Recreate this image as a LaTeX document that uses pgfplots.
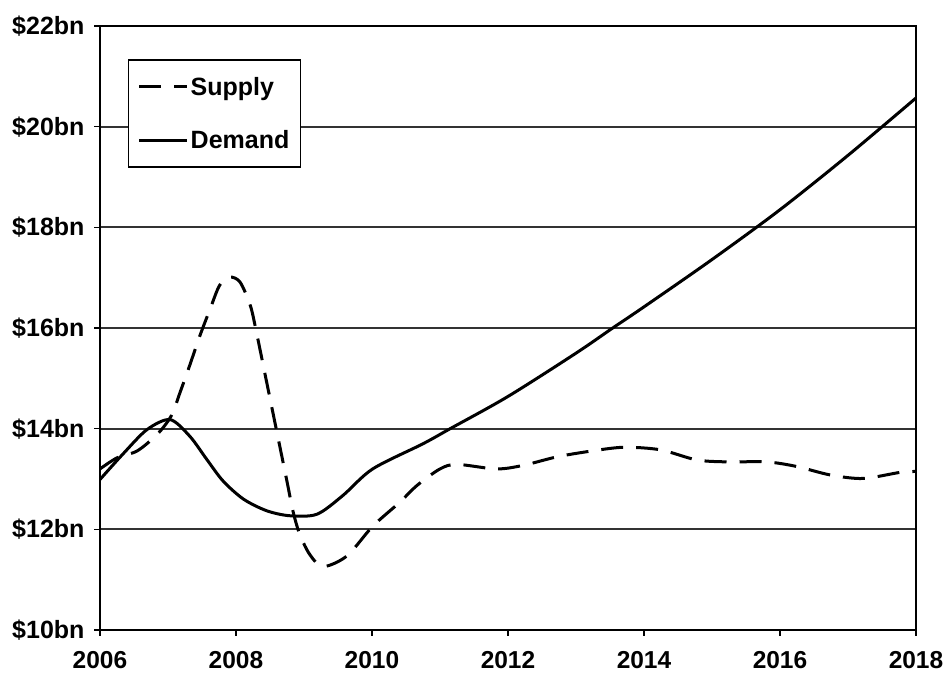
\documentclass[border=0pt]{standalone}
\usepackage{pgfplots}
\pgfplotsset{compat=1.18}
\usepackage{fontspec}
\setmainfont{Liberation Sans}

\begin{document}
\begin{tikzpicture}
\begin{axis}[
  scale only axis,
  width=816pt, height=604pt,
  xmin=2006, xmax=2018,
  ymin=10, ymax=22,
  xtick={2006,2008,...,2018},
  xticklabels={2006,2008,2010,2012,2014,2016,2018},
  ytick={10,12,...,22},
  yticklabels={\$10bn,\$12bn,\$14bn,\$16bn,\$18bn,\$20bn,\$22bn},
  tick pos=left,
  tick align=outside,
  major tick length=6pt,
  every tick/.style={black, line width=1.5pt},
  axis line style={black, line width=2pt},
  ymajorgrids,
  grid style={black!80, line width=1.8pt},
  yticklabel style={font=\fontsize{25}{28}\selectfont\bfseries, xshift=-6pt},
  xticklabel style={font=\fontsize{24.5}{28}\selectfont\bfseries, yshift=-12pt},
  /pgf/number format/assume math mode=true,
  legend style={
    at={(0.0343,0.945)}, anchor=north west,
    draw=black, line width=1.5pt,
    font=\fontsize{25}{28}\selectfont\bfseries,
    inner xsep=9pt, inner ysep=15pt,
    row sep=30pt,
  },
  legend cell align=left,
  legend image code/.code={\draw[#1] (0pt,0pt) -- (48pt,0pt);},
]

% Supply
\addplot[black, line width=3pt, smooth, tension=0.5,
  dash pattern=on 22pt off 13pt] coordinates {
  (2006.00,13.20) (2006.25,13.42) (2006.55,13.56) (2006.85,13.90)
  (2007.05,14.26) (2007.18,14.73) (2007.32,15.26) (2007.47,15.85)
  (2007.62,16.38) (2007.76,16.85) (2007.91,17.01) (2008.06,16.91)
  (2008.21,16.45) (2008.30,15.92) (2008.45,14.93) (2008.60,13.94)
  (2008.75,12.95) (2008.84,12.35) (2008.94,11.89) (2009.09,11.49)
  (2009.28,11.26) (2009.63,11.47) (2010.01,12.06) (2010.41,12.54)
  (2010.66,12.87) (2011.00,13.20) (2011.25,13.29) (2011.83,13.20)
  (2012.22,13.27) (2012.72,13.44) (2013.20,13.55) (2013.70,13.63)
  (2014.24,13.58) (2014.77,13.38) (2015.22,13.34) (2015.80,13.34)
  (2016.24,13.25) (2016.74,13.08) (2017.22,13.01) (2017.76,13.13)
  (2018.00,13.15)
};
\addlegendentry{Supply}

% Demand
\addplot[black, line width=3pt, smooth, tension=0.5] coordinates {
  (2006.00,12.99) (2006.34,13.50) (2006.69,13.98) (2007.03,14.18)
  (2007.32,13.85) (2007.57,13.39) (2007.81,12.96) (2008.11,12.60)
  (2008.45,12.37) (2008.79,12.27) (2009.19,12.30) (2009.57,12.67)
  (2010.01,13.20) (2010.75,13.70) (2011.15,14.00) (2012.00,14.64)
  (2013.00,15.50) (2013.54,16.00) (2014.00,16.42) (2015.00,17.36)
  (2016.00,18.35) (2017.00,19.43) (2018.00,20.57)
};
\addlegendentry{Demand}

\end{axis}
\path (-100pt,-49pt) rectangle (851pt,630pt);
\end{tikzpicture}
\end{document}
